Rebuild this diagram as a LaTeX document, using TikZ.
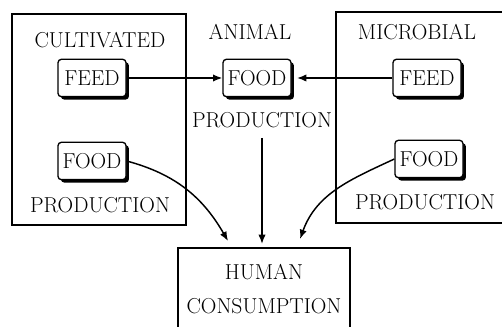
\documentclass[tikz,border=0pt]{standalone}
\usepackage{tikz}
\usetikzlibrary{arrows.meta,shadows}

\begin{document}
\begin{tikzpicture}[x=0.75pt,y=0.75pt,yscale=-1,xscale=1,
    font=\fontsize{16.2}{19}\selectfont,
    tag/.style={draw,fill=white,line width=1pt,rounded corners=2.5pt,minimum width=51pt,minimum height=28pt,inner sep=1.5pt,
      drop shadow={shadow xshift=2.2pt,shadow yshift=-2.2pt,fill=black,opacity=1}},
    flow/.style={line width=1.1pt,-{Latex[length=7pt,width=5.5pt]}},
    frame/.style={line width=0.9pt}]
    \useasboundingbox (0,0) rectangle (502,327);

    %Shape: Rectangle [cultivated]
    \draw[frame] (12,14) rectangle (186,225);
    %Shape: Open Rectangle [microbial]
    \draw[frame] (502,12) -- (336,12) -- (336,223) -- (502,223);
    %Shape: Open Rectangle [human]
    \draw[frame] (178,327) -- (178,248) -- (350,248) -- (350,327);

    % Text Node
    \node (cult) at (100,40) {CULTIVATED};
    % Text Node
    \node (anim) at (250,32) {ANIMAL};
    % Text Node
    \node (micr) at (417,32) {MICROBIAL};

    % Boxes
    \node[tag] (feedL) at (92,78) {FEED};
    \node[tag] (foodL) at (92,161) {FOOD};
    \node[tag] (foodA) at (257,78) {FOOD};
    \node[tag] (feedM) at (427,78) {FEED};
    \node[tag] (foodM) at (429,159) {FOOD};

    % Text Node
    \node (prodL) at (100,205) {PRODUCTION};
    % Text Node
    \node (prodA) at (262,120) {PRODUCTION};
    % Text Node
    \node (prodM) at (425,202) {PRODUCTION};
    % Text Node
    \node[align=center] (human) at (264,289) {HUMAN\\[7pt]CONSUMPTION};

    \coordinate (tipL) at (228,241);
    \coordinate (tipC) at (263,244);
    \coordinate (tipR) at (300,239);

    %Straight Lines
    \draw[flow] (feedL.east) -- (foodA.west);
    \draw[flow,shorten >=4pt] (feedM.west) -- (foodA.east);
    \draw[flow,shorten <=4pt] (prodA.south) -- (prodA.south |- tipC);
    %Curves (angles flipped by yscale=-1)
    \draw[flow] (foodL.east) to[out=15,in=-120] (tipL);
    \draw[flow] (foodM.west) to[out=155,in=-70] (tipR);

\end{tikzpicture}
\end{document}
